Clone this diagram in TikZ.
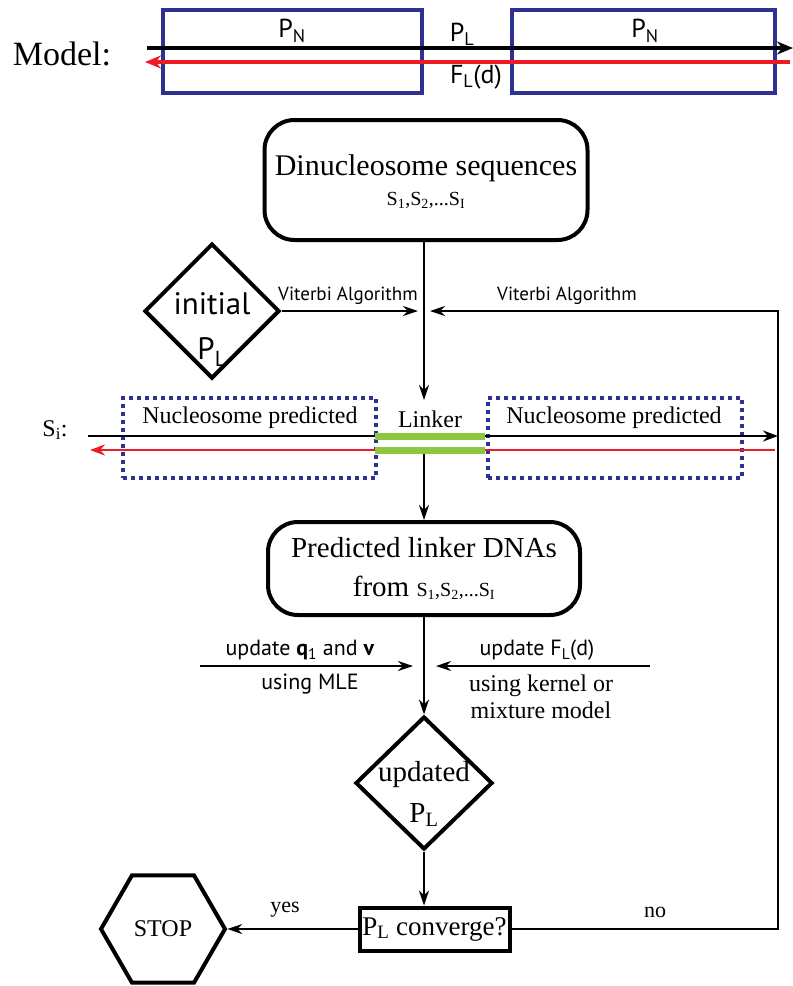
\documentclass[tikz,border=0pt]{standalone}
\usepackage{fontspec}
\setmainfont{Liberation Serif}
\newfontfamily\sfx{PT Sans}
\usetikzlibrary{arrows.meta,shapes.geometric}
\definecolor{navy}{RGB}{46,49,146}
\definecolor{dred}{RGB}{237,28,36}
\definecolor{lgreen}{RGB}{141,198,63}
\begin{document}
\begin{tikzpicture}[x=1pt,y=-1pt,
  ser/.style={font=\fontsize{#1}{#1}\selectfont, inner sep=0},
  sns/.style={font=\sfx\fontsize{#1}{#1}\selectfont, inner sep=0},
  rbox/.style={draw, line width=4pt, rounded corners=30pt, inner sep=0},
  dia/.style={draw, line width=4pt, diamond, inner sep=0},
  nbox/.style={draw=navy, line width=3.5pt, inner sep=0},
  dotbox/.style={draw=navy, line width=4pt, dash pattern=on 4pt off 4pt, inner sep=0},
  arr/.style={line width=1.8pt, -{Stealth[length=15pt,width=10pt]}},
  plain/.style={line width=1.8pt},
]
\useasboundingbox (0,0) rectangle (793,986);

% ---------- Model row ----------
\node[ser=34] (model) at (62,54) {Model:};
\node[nbox, minimum width=259pt, minimum height=83pt] (pn1) at (292.5,51.5) {};
\node[nbox, minimum width=263pt, minimum height=83pt] (pn2) at (643.5,51.5) {};
\coordinate (mA) at (147,48);
\coordinate (mB) at (793,48);
\coordinate (mC) at (790,62);
\coordinate (mD) at (145,62);
\draw[line width=4pt, -{Stealth[length=16pt,width=13pt]}] (mA) -- (mB);
\draw[line width=4pt, dred, -{Stealth[length=16pt,width=13pt]}] (mC) -- (mD);
\node[sns=26] (pnl1) at (292,31) {P\textsubscript{N}};
\node[sns=26] (pnl2) at (645,31) {P\textsubscript{N}};
\node[sns=26] (pl0) at (462,34) {P\textsubscript{L}};
\node[sns=26] (fl0) at (476,77) {F\textsubscript{L}(d)};

% ---------- Dinucleosome ----------
\node[rbox, minimum width=323pt, minimum height=120pt] (dinuc) at (426,180) {};
\node[ser=30] (dinucT) at (426,168) {Dinucleosome sequences};
\node[ser=20] (dinucS) at (426,200) {S\textsubscript{1},S\textsubscript{2},...S\textsubscript{I}};

% ---------- initial diamond ----------
\node[dia, minimum width=135pt, minimum height=135pt] (init) at (212,311) {};
\node[sns=31] (initT) at (212,304) {initial};
\node[sns=31] (initP) at (212,352) {P\textsubscript{L}};

\coordinate (jL) at (418,311);
\coordinate (jR) at (430,311);
\coordinate (ltop) at (424,400);
\coordinate (corner1) at (778,311);
\coordinate (corner2) at (778,929);
\draw[arr] (init.east) -- (jL);
\node[sns=19] (vit1) at (348,296) {Viterbi Algorithm};
\node[sns=19] (vit2) at (567,296) {Viterbi Algorithm};
\draw[arr] (dinuc.south -| ltop) -- (ltop);

% ---------- S_i row ----------
\node[dotbox, minimum width=253pt, minimum height=80pt] (nuc1) at (249.5,438) {};
\node[dotbox, minimum width=254pt, minimum height=80pt] (nuc2) at (615,438) {};
\coordinate (sA) at (88,436);
\coordinate (sB) at (778,436);
\coordinate (sC) at (775,450);
\coordinate (sD) at (90,450);
\draw[line width=2.5pt, -{Stealth[length=15pt,width=11pt]}] (sA) -- (sB);
\draw[line width=2.5pt, dred, -{Stealth[length=15pt,width=11pt]}] (sC) -- (sD);
\coordinate (gA) at (375,436);
\coordinate (gB) at (485,436);
\coordinate (gC) at (375,450);
\coordinate (gD) at (485,450);
\draw[line width=7pt, lgreen] (gA) -- (gB);
\draw[line width=7pt, lgreen] (gC) -- (gD);
\node[ser=24] (nucT1) at (250,418) {Nucleosome predicted};
\node[ser=24] (nucT2) at (614,418) {Nucleosome predicted};
\node[ser=24] (link) at (430,419) {Linker};
\node[ser=24] (si) at (55,430) {S\textsubscript{i}:};
\coordinate (lk) at (424,454);

% ---------- Predicted linker ----------
\node[rbox, minimum width=312pt, minimum height=93pt] (pred) at (424,568.5) {};
\node[ser=29] (predT) at (424,548) {Predicted linker DNAs};
\node[ser=29] (predS) at (424,588) {from {\fontsize{20}{20}\selectfont S\textsubscript{1},S\textsubscript{2},...S\textsubscript{I}}};
\draw[arr] (lk) -- (lk |- pred.north);

% ---------- update arrows ----------
\coordinate (uL0) at (200,666);
\coordinate (uL1) at (413,666);
\coordinate (uR0) at (650,666);
\coordinate (uR1) at (436,666);
\draw[arr] (uL0) -- (uL1);
\draw[arr] (uR0) -- (uR1);
\node[sns=22] (uq) at (300,650) {update \textbf{q}\textsubscript{1} and \textbf{v}};
\node[sns=22] (umle) at (310,684) {using MLE};
\node[sns=22] (uf) at (537,650) {update F\textsubscript{L}(d)};
\node[ser=24, align=center] (uk) at (541,697) {using kernel or\\[3pt]mixture model};

% ---------- updated diamond ----------
\node[dia, minimum width=137pt, minimum height=133pt] (upd) at (424,783) {};
\node[ser=29] (updT) at (424,775) {updated};
\node[ser=29] (updP) at (424,815) {P\textsubscript{L}};
\draw[arr] (pred.south -| upd.north) -- (upd.north);

% ---------- converge ----------
\node[draw, line width=4pt, minimum width=150pt, minimum height=43pt, inner sep=0] (conv) at (434.5,929) {};
\node[ser=27] (convT) at (434.5,929) {P\textsubscript{L} converge?};
\draw[arr] (upd.south) -- (upd.south |- conv.north);

\node[draw, line width=4pt, regular polygon, regular polygon sides=6, minimum size=124pt, inner sep=0] (stop) at (163,929) {};
\node[ser=24] (stopT) at (163,929) {STOP};
\draw[arr] (conv.west) -- (stop.east);
\node[ser=22] (yes) at (285,910) {yes};
\draw[arr] (conv.east) -- (corner2) -- (corner1) -- (jR);
\node[ser=22] (no) at (655,912) {no};
\end{tikzpicture}
\end{document}
